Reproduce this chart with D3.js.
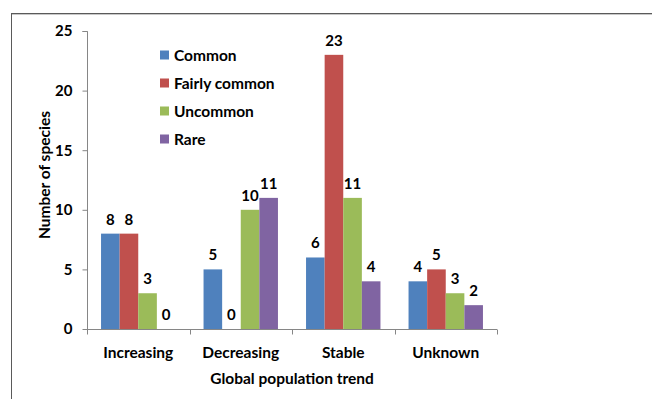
<!DOCTYPE html>
<html>
<head>
<meta charset="utf-8">
<script src="https://cdn.jsdelivr.net/npm/d3@7/dist/d3.min.js"></script>
<style>
  html, body { margin: 0; padding: 0; background: #fff; }
  svg { display: block; font-family: Lato, "Open Sans", sans-serif; font-weight: bold; }
</style>
</head>
<body>
<svg id="chart" width="652" height="399"></svg>
<script>
// Number of species per global population trend, split by abundance class
const trends = ["Increasing", "Decreasing", "Stable", "Unknown"];
const classes = ["Common", "Fairly common", "Uncommon", "Rare"];
const common = [8, 5, 6, 4];
const fairlyCommon = [8, 0, 23, 5];
const uncommon = [3, 10, 11, 3];
const rare = [0, 11, 4, 2];
const yTicks = [0, 5, 10, 15, 20, 25];
const colors = ["#4F81BD", "#C0504D", "#9BBB59", "#8064A2"];

const seriesValues = [common, fairlyCommon, uncommon, rare];
const rows = trends.map((t, i) => ({
  trend: t,
  values: classes.map((c, j) => ({ cls: c, value: seriesValues[j][i], color: colors[j] }))
}));

const svg = d3.select("#chart");
const axisColor = "#868686";

// outer frame (top and left edges)
svg.append("line").attr("x1", 11).attr("x2", 652).attr("y1", 13.5).attr("y2", 13.5)
  .attr("stroke", "#5a5a5a").attr("stroke-width", 1);
svg.append("line").attr("x1", 11).attr("x2", 652).attr("y1", 14.5).attr("y2", 14.5)
  .attr("stroke", "#c8c8c8").attr("stroke-width", 1);
svg.append("line").attr("x1", 11.5).attr("x2", 11.5).attr("y1", 13).attr("y2", 399)
  .attr("stroke", "#5a5a5a").attr("stroke-width", 1);

const plot = { left: 87, right: 497, top: 31, bottom: 329 };

const x0 = d3.scaleBand().domain(trends).range([plot.left, plot.right]).padding(0);
const x1 = d3.scaleBand().domain(classes)
  .range([x0.bandwidth() * 0.137, x0.bandwidth() * (1 - 0.137)]).padding(0);
const y = d3.scaleLinear().domain([0, 25]).range([plot.bottom, plot.top]);

// y axis
const yAxis = svg.append("g").attr("transform", `translate(${plot.left + 0.5},0)`)
  .call(d3.axisLeft(y).tickValues(yTicks).tickSize(5).tickPadding(10));
yAxis.select(".domain").attr("stroke", axisColor).attr("d", `M-5,${y(25) + 0.5}H0V${plot.bottom + 0.5}`);
yAxis.selectAll(".tick line").attr("stroke", axisColor);
yAxis.selectAll(".tick text").attr("fill", "#000").style("font-size", "15px")
  .style("font-family", "Lato, sans-serif").style("font-weight", "bold");

// bars
const groups = svg.append("g").selectAll("g").data(rows).join("g")
  .attr("transform", d => `translate(${x0(d.trend)},0)`);

groups.selectAll("rect").data(d => d.values).join("rect")
  .attr("x", d => x1(d.cls))
  .attr("y", d => y(d.value))
  .attr("width", x1.bandwidth())
  .attr("height", d => y(0) - y(d.value))
  .attr("fill", d => d.color);

// value labels
groups.selectAll("text").data(d => d.values).join("text")
  .attr("x", d => x1(d.cls) + x1.bandwidth() / 2)
  .attr("y", d => y(d.value) - 9)
  .attr("text-anchor", "middle")
  .style("font-size", "15px")
  .attr("fill", "#000")
  .text(d => d.value);

// x axis with boundary ticks between categories
const xAxisG = svg.append("g").attr("transform", `translate(0,${plot.bottom + 0.5})`);
xAxisG.append("line").attr("x1", plot.left).attr("x2", plot.right)
  .attr("stroke", axisColor);
const boundaries = trends.map(t => x0(t)).concat([plot.right]);
xAxisG.selectAll("line.tk").data(boundaries).join("line").attr("class", "tk")
  .attr("x1", d => Math.round(d) + 0.5).attr("x2", d => Math.round(d) + 0.5)
  .attr("y1", 0).attr("y2", 5).attr("stroke", axisColor);
xAxisG.selectAll("text").data(trends).join("text")
  .attr("x", d => x0(d) + x0.bandwidth() / 2)
  .attr("y", 28)
  .attr("text-anchor", "middle")
  .style("font-size", "15.5px")
  .text(d => d);

// axis titles
svg.append("text")
  .attr("transform", `translate(50,${(plot.top + plot.bottom) / 2 - 5}) rotate(-90)`)
  .attr("text-anchor", "middle")
  .style("font-size", "15.5px")
  .text("Number of species");
svg.append("text")
  .attr("x", 292).attr("y", 384)
  .attr("text-anchor", "middle")
  .style("font-size", "15.5px")
  .text("Global population trend");

// legend
const legend = svg.append("g").attr("transform", "translate(160,55)");
const items = legend.selectAll("g").data(classes).join("g")
  .attr("transform", (d, i) => `translate(0,${i * 28})`);
items.append("rect").attr("x", 0).attr("y", -4.5).attr("width", 9).attr("height", 9)
  .attr("fill", (d, i) => colors[i]);
items.append("text").attr("x", 14).attr("y", 5.5)
  .style("font-size", "15.5px")
  .text(d => d);
</script>
</body>
</html>
